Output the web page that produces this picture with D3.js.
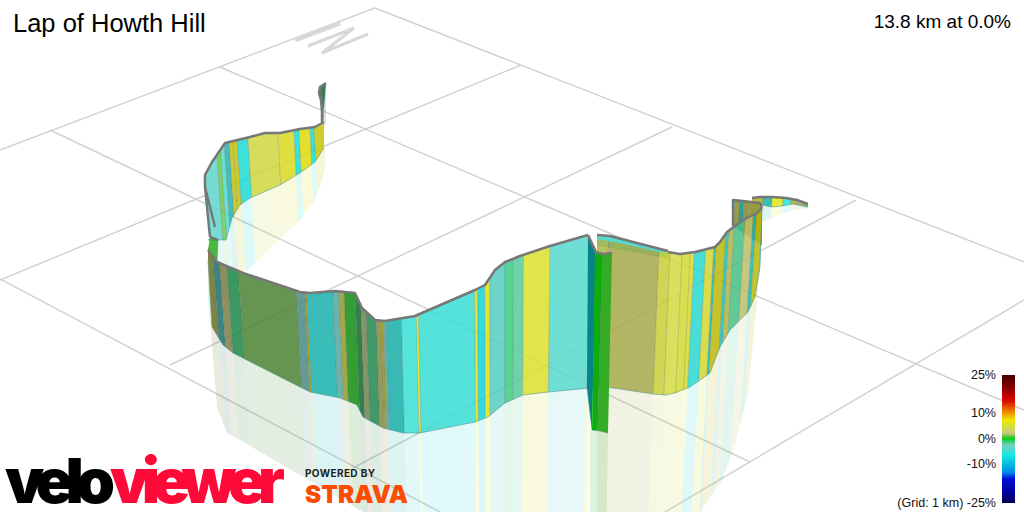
<!DOCTYPE html>
<html>
<head>
<meta charset="utf-8">
<title>Lap of Howth Hill</title>
<script src="https://d3js.org/d3.v7.min.js"></script>
<style>
  html, body { margin: 0; padding: 0; background: #fff; overflow: hidden; }
  text { font-family: "Liberation Sans", Arial, sans-serif; }
</style>
</head>
<body>
<script>
var width = 1024, height = 512;

// gradient colour ramp
var rampGrades = [25, 19.5, 16.4, 14.5, 12.5, 9.8, 7.4, 4.7, 2.2, 0.2, -0.6, -2.5, -6.5, -12.9, -15.5, -20.7, -25];
var rampColors = ["#4a0000", "#900000", "#cc0000", "#dd1000", "#e85000", "#f0a000", "#ece800", "#d4dc40", "#c4c884", "#10cc10", "#20d060", "#78d0c4", "#10e8e0", "#0090e8", "#0010d8", "#0000a0", "#000050"];
var legendTicks = [25, 10, 0, -10, -25];

// ground grid, picture units
var gridLines = [
  [[0, 150], [375, 8]],
  [[375, 8], [1024, 262]],
  [[220, 67], [1024, 410]],
  [[50, 130], [750, 462]],
  [[0, 279], [440, 512]],
  [[0, 280], [521, 65]],
  [[170, 365], [672, 127]],
  [[353, 468], [856, 200]],
  [[665, 512], [1024, 300]]
];
var northArrow = [[295, 40], [340, 23]];
var northLetter = [[308, 46], [354, 28], [322, 53], [368, 34]];

// start of the lap, the thin tail at the back
var tailATop = [[326, 83], [320, 87], [319, 93], [321, 100], [322, 112], [322, 122]];
var tailABase = [[323, 122], [324, 112], [323, 100], [321, 93], [322, 88], [326, 83]];
var tailAMirror = [[323, 122], [326, 126], [326, 140]];
var tailABreaks = [310, 335];
var tailAGrades = [-1];

// back wall, left to right
var backTop = [[210, 237], [205, 187], [205, 175], [212, 162], [225, 143], [250, 137], [265, 133], [280, 133], [300, 129], [315, 127], [324, 122]];
var backBase = [[208, 240], [226, 240], [232, 218], [240, 205], [250, 198], [280, 185], [300, 173], [315, 162], [324, 148]];
var backMirror = [[215, 300], [225, 295], [245, 273], [278, 240], [300, 220], [315, 200], [320, 187], [325, 170], [325, 150]];
var backBreaks = [200, 218, 222, 226, 231, 235, 239, 250, 280, 296, 301, 312, 316, 330];
var backGrades = [-3.5, 1.2, -4, -5, 6.5, 7, -6, 4.8, 6, -6.5, 7, -6.5, 7];

// folds where the back wall turns into the front wall
var foldATop = [[205, 187], [215, 227]];
var foldABase = [[210, 237], [205, 187]];
var foldABreaks = [200, 220];
var foldAGrades = [2];
var foldBTop = [[210, 237], [218, 240]];
var foldBBase = [[208, 250], [217, 262], [218, 240]];
var foldBBreaks = [200, 230];
var foldBGrades = [0.6];

// front wall
var frontTop = [[208, 250], [217, 262], [243, 273], [300, 292], [310, 293], [335, 291], [345, 292], [355, 293], [362, 308], [375, 320], [385, 321], [415, 316], [475, 290], [485, 285], [495, 270], [505, 262], [520, 256], [550, 246], [588, 235]];
var frontBase = [[208, 260], [212, 327], [223, 345], [233, 353], [300, 387], [310, 392], [340, 398], [357, 405], [363, 417], [383, 428], [403, 433], [420, 433], [475, 422], [488, 417], [505, 403], [523, 395], [548, 392], [590, 388]];
var frontMirror = [[208, 300], [216, 395], [217, 407], [227, 433], [240, 440], [363, 512], [420, 550], [590, 550]];
var frontBreaks = [200, 212, 219, 225, 232, 243, 299, 307, 309, 335, 341, 346, 357, 362, 367, 377, 382, 384, 387, 402, 417, 419, 475, 478, 485, 490, 505, 513, 523, 549, 588, 592];
var frontGrades = [-1, 4.8, -5, 3, -0.8, 1.3, -3, 6, -6, -3, 5, 0.3, -0.5, 2, -1, 3.5, 7, -3, -6, -5, 7.2, -5, 7, -7.5, 6.5, -3.7, -1.3, -1.8, 5.5, -3.8, 7];

// the steep ramp hanging off the top, dark side and face
var rampSideTop = [[588, 235], [596, 252]];
var rampSideBase = [[587, 388], [592, 430]];
var rampSideBreaks = [580, 600];
var rampSideGrades = [-7.5];
var rampTop = [[595, 252], [603, 254], [612, 253]];
var rampBase = [[592, 430], [600, 431], [608, 433]];
var rampMirror = [[590, 430], [590, 550], [606, 550], [608, 433]];
var rampBreaks = [590, 600, 615];
var rampGradesList = [0.2, 0.7];

// right wall
var rightTop = [[597, 239], [620, 243], [660, 252], [668, 252], [680, 254], [695, 252], [715, 247], [720, 242], [727, 232], [743, 220], [757, 213], [762, 208]];
var rightBase = [[597, 386], [620, 389], [653, 394], [665, 395], [675, 393], [690, 387], [710, 373], [720, 347], [730, 330], [748, 312], [755, 297], [760, 267], [762, 208]];
var rightMirror = [[597, 550], [680, 550], [700, 512], [722, 480], [735, 445], [748, 393], [757, 302], [762, 240]];
var rightBreaks = [590, 607, 657, 668, 680, 688, 692, 703, 711, 713, 722, 725, 730, 740, 748, 751, 757, 770];
var rightGrades = [4, 3.7, 5, 4.7, 5.2, 5.5, -5.5, 5.5, -6, 7, -6, 4, -1.5, 3, -6, 7, -6];

// thin band seen above the right wall
var bandTop = [[597, 235], [610, 236], [668, 251]];
var bandBase = [[597, 245], [668, 258]];
var bandBreaks = [590, 680];
var bandGrades = [-5];

// inside of the far corner
var cornerTop = [[733, 226], [733, 200], [743, 201], [760, 203], [762, 208]];
var cornerBase = [[733, 226], [762, 245]];
var cornerBreaks = [730, 734, 739, 743, 747, 751, 770];
var cornerGrades = [-7, 5, -7, 4, 5, 5];

// finish tail on the right
var tailBTop = [[752, 198], [760, 197], [773, 197], [786, 198], [797, 200], [808, 204]];
var tailBBase = [[752, 203], [772, 207], [782, 206], [793, 204], [808, 207]];
var tailBMirror = [[752, 228], [762, 222], [783, 213], [793, 210], [808, 208]];
var tailBBreaks = [745, 763, 772, 783, 791, 796, 805, 812];
var tailBGrades = [5.5, -6, 6.5, -6, 6, 2.5, 0.4];

var x = d3.scaleLinear().domain([0, 1024]).range([0, width]);
var y = d3.scaleLinear().domain([0, 512]).range([0, height]);
var gradeColor = d3.scaleLinear().domain(rampGrades).range(rampColors);

// wall shading follows which way the base of the wall runs
var lightBySlope = d3.scaleLinear().domain([-2, -0.8, -0.1, 0.05, 0.15, 0.5, 1.5]).range([0.8, 0.95, 1, 1, 0.8, 0.65, 0.5]).clamp(true);
var vanish = [500, 4200];

var svg = d3.select("body").append("svg").attr("width", width).attr("height", height)
  .style("display", "block");
var defs = svg.append("defs");

var path = d3.line().x(function(d) { return x(d[0]); }).y(function(d) { return y(d[1]); });

svg.append("g").selectAll("path").data(gridLines).enter().append("path")
  .attr("d", path).attr("fill", "none").attr("stroke", "#d2d2d2").attr("stroke-width", 1.5);

svg.append("path").datum(northArrow).attr("d", path).attr("fill", "none").attr("stroke", "#d8d8d8").attr("stroke-width", 5);
svg.append("path").datum(northLetter).attr("d", path).attr("fill", "none").attr("stroke", "#d8d8d8").attr("stroke-width", 3);

function slopeAt(line, px) {
  for (var i = 1; i < line.length; i++) {
    var a = line[i - 1], b = line[i];
    if (px >= Math.min(a[0], b[0]) && px <= Math.max(a[0], b[0]) && a[0] != b[0]) {
      return (b[1] - a[1]) / (b[0] - a[0]);
    }
  }
  return 0;
}

function shade(grade, k) {
  var c = d3.rgb(gradeColor(grade));
  return d3.rgb(c.r * k, c.g * k, c.b * k).formatRgb();
}

// one stripe, its edges lean towards the vanishing point
function stripe(x0, x1, refY) {
  function at(px, py) {
    return [vanish[0] + (px - vanish[0]) * (vanish[1] - py) / (vanish[1] - refY), py];
  }
  return [at(x0, 0), at(x1, 0), at(x1, 600), at(x0, 600)];
}

var clipCount = 0;
function stripes(parent, outline, base, s, opacity, stroked) {
  var id = "clip" + (clipCount++);
  defs.append("clipPath").attr("id", id).append("path").attr("d", path(outline) + "Z");
  var g = parent.append("g").attr("clip-path", "url(#" + id + ")");
  g.selectAll("path").data(s.grades).enter().append("path")
    .attr("d", function(d, i) { return path(stripe(s.breaks[i], s.breaks[i + 1], s.refY)) + "Z"; })
    .attr("fill", function(d, i) {
      var k = s.light || lightBySlope(slopeAt(base, (s.breaks[i] + s.breaks[i + 1]) / 2));
      return shade(d, k);
    })
    .attr("fill-opacity", opacity)
    .attr("stroke", stroked ? "#555" : "none")
    .attr("stroke-opacity", 0.16)
    .attr("stroke-width", 1);
}

function wall(s) {
  var g = svg.append("g");
  if (s.mirror) {
    stripes(g, s.base.concat(s.mirror.slice().reverse()), s.base, s, 0.15, false);
  }
  stripes(g, s.top.concat(s.base.slice().reverse()), s.base, s, s.opacity || 0.85, true);
  g.append("path").datum(s.base).attr("d", path).attr("fill", "none")
    .attr("stroke", "#4a8f88").attr("stroke-opacity", 0.55).attr("stroke-width", 1);
  g.append("path").datum(s.top.slice(s.edgeFrom || 0)).attr("d", path).attr("fill", "none")
    .attr("stroke", "#777").attr("stroke-width", 2.5).attr("stroke-linejoin", "round");
}

wall({top: tailATop, base: tailABase, mirror: tailAMirror, breaks: tailABreaks, grades: tailAGrades, refY: 100});
wall({top: tailBTop, base: tailBBase, mirror: tailBMirror, breaks: tailBBreaks, grades: tailBGrades, refY: 200});
wall({top: cornerTop, base: cornerBase, breaks: cornerBreaks, grades: cornerGrades, refY: 215});
wall({top: backTop, base: backBase, mirror: backMirror, breaks: backBreaks, grades: backGrades, refY: 170});
wall({top: foldATop, base: foldABase, breaks: foldABreaks, grades: foldAGrades, refY: 220, light: 0.85});
wall({top: foldBTop, base: foldBBase, breaks: foldBBreaks, grades: foldBGrades, refY: 245, light: 0.85});
wall({top: bandTop, base: bandBase, breaks: bandBreaks, grades: bandGrades, refY: 245, light: 0.95});
wall({top: rightTop, base: rightBase, mirror: rightMirror, breaks: rightBreaks, grades: rightGrades, refY: 300, edgeFrom: 3});
wall({top: frontTop, base: frontBase, mirror: frontMirror, breaks: frontBreaks, grades: frontGrades, refY: 340});
wall({top: rampSideTop, base: rampSideBase, breaks: rampSideBreaks, grades: rampSideGrades, refY: 340, light: 0.6, opacity: 1});
wall({top: rampTop, base: rampBase, mirror: rampMirror, breaks: rampBreaks, grades: rampGradesList, refY: 340, light: 0.85, opacity: 1});

// legend
var legendY = d3.scaleLinear().domain([25, -25]).range([375, 503]);
var grad = defs.append("linearGradient").attr("id", "ramp")
  .attr("x1", 0).attr("y1", 0).attr("x2", 0).attr("y2", 1);
grad.selectAll("stop").data(rampGrades).enter().append("stop")
  .attr("offset", function(d) { return (25 - d) / 50; })
  .attr("stop-color", function(d) { return gradeColor(d); });
svg.append("rect").attr("x", x(1002)).attr("y", legendY(25)).attr("width", 13).attr("height", 128).attr("fill", "url(#ramp)");

var legendAxis = d3.axisLeft(legendY).tickValues(legendTicks).tickSize(0).tickPadding(0)
  .tickFormat(function(d) { return d == -25 ? "(Grid: 1 km) -25%" : d + "%"; });
var legendG = svg.append("g").attr("transform", "translate(996,-1)").call(legendAxis);
legendG.select(".domain").remove();
legendG.selectAll("text").attr("font-size", 12.5).attr("fill", "#111")
  .style("font-family", '"Liberation Sans", Arial, sans-serif');

// titles
svg.append("text").attr("x", 13).attr("y", 32).attr("font-size", 25.5).attr("fill", "#000").text("Lap of Howth Hill");
svg.append("text").attr("x", 1011).attr("y", 28).attr("text-anchor", "end").attr("font-size", 19).attr("fill", "#000").text("13.8 km at 0.0%");

// logos
function logo(t, px, py, size, w, col, weight, adjust) {
  svg.append("text").attr("x", px).attr("y", py).attr("font-size", size).attr("fill", col)
    .attr("font-weight", weight).style("font-family", "Inter, Roboto, sans-serif")
    .attr("textLength", w).attr("lengthAdjust", adjust).text(t);
}
logo("viewer", 110, 503, 62, 175, "#ff0a38", 900, "spacing");
logo("velo", 5, 503, 62, 110, "#000", 900, "spacing");
logo("POWERED BY", 305, 477, 10, 70, "#222", 700, "spacing");
logo("STRAVA", 305, 503, 25, 103, "#fc4c02", 900, "spacingAndGlyphs");
</script>
</body>
</html>
